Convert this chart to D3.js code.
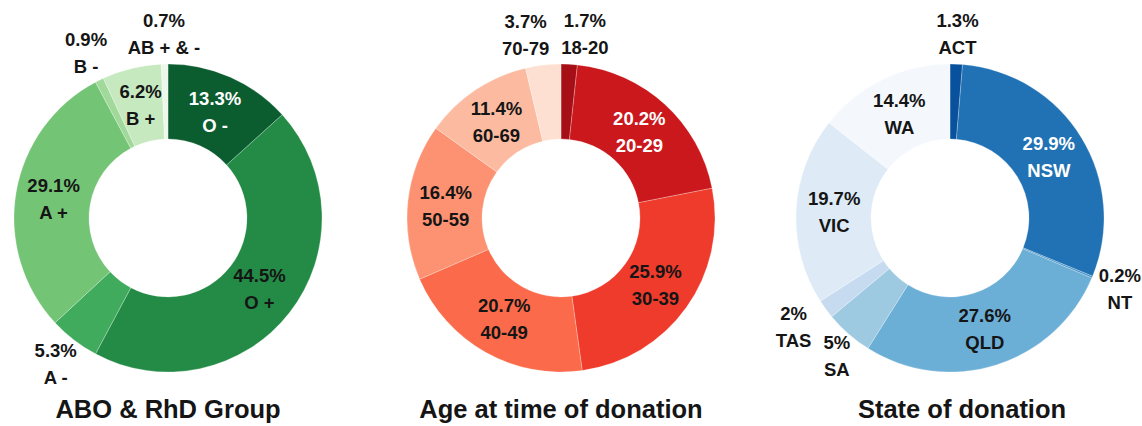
<!DOCTYPE html>
<html>
<head>
<meta charset="utf-8">
<script src="https://cdn.jsdelivr.net/npm/d3@7"></script>
<style>
  html, body { margin: 0; padding: 0; background: #fff; }
  svg { display: block; }
  text { font-family: "Liberation Sans", Arial, sans-serif; }
</style>
</head>
<body>
<svg id="chart" width="1142" height="426"></svg>
<script>
// ---- data ----
const bloodGroups = ["O -", "O +", "A -", "A +", "B -", "B +", "AB + & -"];
const bloodValues = [13.3, 44.5, 5.3, 29.1, 0.9, 6.2, 0.7];
const bloodPct = ["13.3%", "44.5%", "5.3%", "29.1%", "0.9%", "6.2%", "0.7%"];

const ageGroups = ["18-20", "20-29", "30-39", "40-49", "50-59", "60-69", "70-79"];
const ageValues = [1.7, 20.2, 25.9, 20.7, 16.4, 11.4, 3.7];
const agePct = ["1.7%", "20.2%", "25.9%", "20.7%", "16.4%", "11.4%", "3.7%"];

const states = ["ACT", "NSW", "NT", "QLD", "SA", "TAS", "VIC", "WA"];
const stateValues = [1.3, 29.9, 0.2, 27.6, 5, 2, 19.7, 14.4];
const statePct = ["1.3%", "29.9%", "0.2%", "27.6%", "5%", "2%", "19.7%", "14.4%"];

const titles = ["ABO & RhD Group", "Age at time of donation", "State of donation"];

// ---- styles ----
const greens = ["#0b5d30", "#238b45", "#41ab5d", "#74c476", "#a1d99b", "#c7e9c0", "#edf7ea"];
const reds = ["#a50f15", "#cb181d", "#ef3b2c", "#fb6a4a", "#fc9272", "#fcbba1", "#fee0d2"];
const blues = ["#08519c", "#2171b5", "#4292c6", "#6baed6", "#9ecae1", "#c6dbef", "#deebf7", "#f4f8fd"];

const outerR = 154, innerR = 79, labelR = 116, outsideR = 184;
const lineGap = 27, fontSize = 18.5;
const outsideThreshold = 6;

const svg = d3.select("#chart");

const charts = [
  { names: bloodGroups, values: bloodValues, pct: bloodPct, colors: greens, title: titles[0], cx: 168, titleDx: 0 },
  { names: ageGroups, values: ageValues, pct: agePct, colors: reds, title: titles[1], cx: 561, titleDx: 0 },
  { names: states, values: stateValues, pct: statePct, colors: blues, title: titles[2], cx: 950, titleDx: 12 }
];
const cy = 218;

const pie = d3.pie().sort(null).value(d => d.value);
const arc = d3.arc().innerRadius(innerR).outerRadius(outerR);
const labelArc = d3.arc().innerRadius(labelR).outerRadius(labelR);
const outArc = d3.arc().innerRadius(outsideR).outerRadius(outsideR);

charts.forEach(ch => {
  const data = ch.names.map((n, i) => ({ name: n, value: ch.values[i], pct: ch.pct[i], color: ch.colors[i] }));
  const arcs = pie(data);
  const g = svg.append("g").attr("transform", `translate(${ch.cx},${cy})`);

  g.selectAll("path.slice").data(arcs).enter().append("path")
    .attr("class", "slice")
    .attr("d", arc)
    .attr("fill", d => d.data.color)
    .attr("stroke", "#ffffff")
    .attr("stroke-opacity", 0.5)
    .attr("stroke-width", 0.5);

  const labels = arcs.map(d => {
    const outside = d.data.value < outsideThreshold;
    const c = outside ? outArc.centroid(d) : labelArc.centroid(d);
    const L = d3.lab(d.data.color).l;
    return { d, outside, x: c[0], y: c[1], fill: (!outside && L < 48.5) ? "#ffffff" : "#151515" };
  });

  const lg = g.selectAll("g.lbl").data(labels).enter().append("g").attr("class", "lbl");
  lg.append("text").attr("class", "l1")
    .attr("text-anchor", "middle").attr("dy", "0.35em")
    .attr("y", -lineGap / 2)
    .style("font-size", fontSize + "px").style("font-weight", "bold")
    .attr("fill", l => l.fill)
    .text(l => l.d.data.pct);
  lg.append("text").attr("class", "l2")
    .attr("text-anchor", "middle").attr("dy", "0.35em")
    .attr("y", lineGap / 2)
    .style("font-size", fontSize + "px").style("font-weight", "bold")
    .attr("fill", l => l.fill)
    .text(l => l.d.data.name);

  lg.each(function (l) {
    const t1 = d3.select(this).select(".l1").node().getComputedTextLength();
    const t2 = d3.select(this).select(".l2").node().getComputedTextLength();
    l.w = Math.max(t1, t2);
    l.h = lineGap + fontSize;
  });

  // simple horizontal de-overlap for outside labels
  const outs = labels.filter(l => l.outside);
  const gap = 12;
  for (let iter = 0; iter < 30; iter++) {
    let moved = false;
    for (let i = 0; i < outs.length; i++) {
      for (let j = i + 1; j < outs.length; j++) {
        const a = outs[i], b = outs[j];
        const vOverlap = Math.abs(a.y - b.y) < (a.h + b.h) / 2 - 8;
        if (!vOverlap) continue;
        const need = (a.w + b.w) / 2 + gap;
        const dist = Math.abs(a.x - b.x);
        if (dist < need) {
          const push = (need - dist) / 2 + 0.01;
          if (a.x <= b.x) { a.x -= push; b.x += push; } else { a.x += push; b.x -= push; }
          moved = true;
        }
      }
    }
    if (!moved) break;
  }

  lg.attr("transform", l => `translate(${l.x},${l.y})`);

  svg.append("text")
    .attr("x", ch.cx + ch.titleDx)
    .attr("y", 418)
    .attr("text-anchor", "middle")
    .style("font-size", "25.5px").style("font-weight", "bold")
    .attr("fill", "#151515")
    .text(ch.title);
});
</script>
</body>
</html>
